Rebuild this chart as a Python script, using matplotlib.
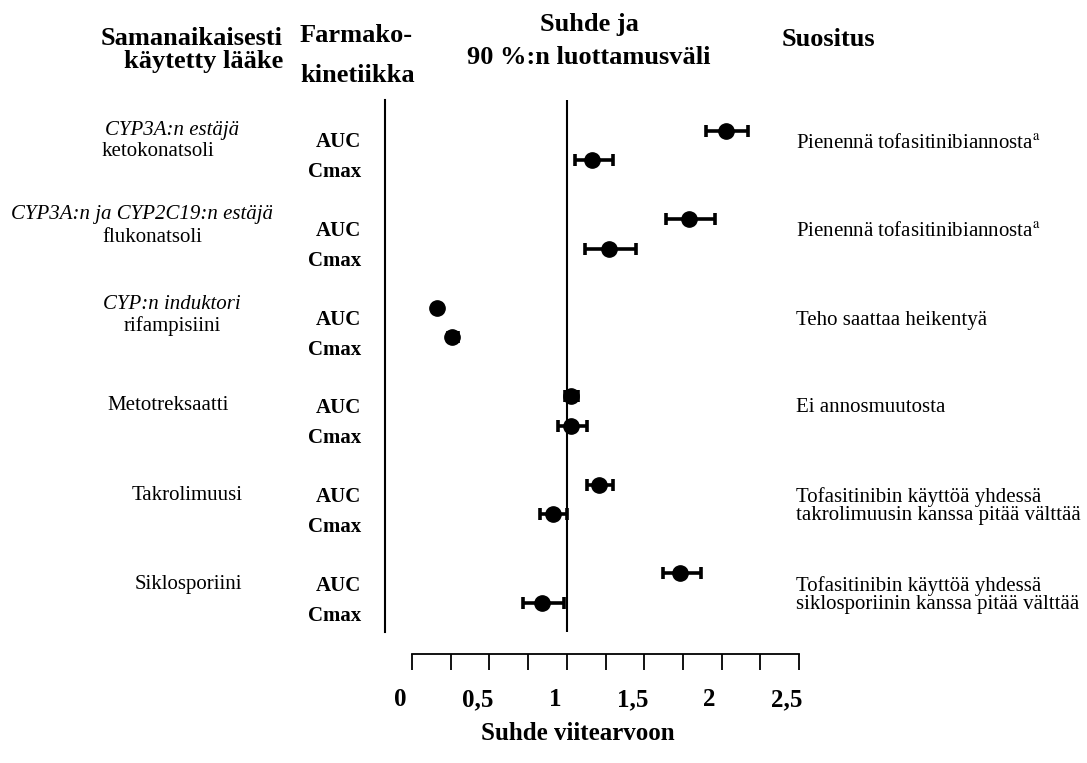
import numpy as np
import matplotlib
matplotlib.use('Agg')
import matplotlib.pyplot as plt
from matplotlib.transforms import ScaledTranslation

plt.rcParams['font.family'] = ['Liberation Serif', 'DejaVu Serif']
plt.rcParams['mathtext.fontset'] = 'stix'

# Tiedot (luettu kuvasta)
drug_class = ['CYP3A:n estäjä', 'CYP3A:n ja CYP2C19:n estäjä', 'CYP:n induktori', '', '', '']
drug_name = ['ketokonatsoli', 'flukonatsoli', 'rifampisiini',
             'Metotreksaatti', 'Takrolimuusi', 'Siklosporiini']
auc_ratio = np.array([2.03, 1.79, 0.16, 1.03, 1.21, 1.73])
auc_low = np.array([1.90, 1.64, 0.14, 0.99, 1.13, 1.62])
auc_high = np.array([2.17, 1.96, 0.19, 1.07, 1.30, 1.87])
cmax_ratio = np.array([1.16, 1.27, 0.26, 1.03, 0.91, 0.84])
cmax_low = np.array([1.05, 1.12, 0.23, 0.94, 0.83, 0.72])
cmax_high = np.array([1.30, 1.45, 0.30, 1.13, 1.00, 0.98])
recommendation = ['Pienennä tofasitinibiannosta$^{\\mathrm{a}}$',
                  'Pienennä tofasitinibiannosta$^{\\mathrm{a}}$',
                  'Teho saattaa heikentyä',
                  'Ei annosmuutosta',
                  'Tofasitinibin käyttöä yhdessä\ntakrolimuusin kanssa pitää välttää',
                  'Tofasitinibin käyttöä yhdessä\nsiklosporiinin kanssa pitää välttää']
tick_values = [0, 0.5, 1, 1.5, 2, 2.5]
tick_labels = ['0', '0,5', '1', '1,5', '2', '2,5']

W, H = 1087, 763
fig = plt.figure(figsize=(W / 100, H / 100), dpi=100)


def px(x, y):
    return x / W, 1 - y / H


# pääakseli
ax = fig.add_axes([385 / W, 1 - 632 / H, (799 - 385) / W, (632 - 100) / H])
ax.set_xlim(-27 / 154.8, 2.5)
ax.set_ylim(17.0, -1.04)
for s in ['top', 'right', 'bottom']:
    ax.spines[s].set_visible(False)
ax.spines['left'].set_linewidth(1.5)
ax.set_xticks([])
ax.set_yticks([])
ax.patch.set_alpha(0)
ax.axvline(1, color='black', lw=1.5)

g = np.arange(len(drug_name))
y_auc = 3 * g
y_cmax = 3 * g + 1
kw = dict(fmt='o', color='black', ms=11, elinewidth=2.6, capsize=4.5, capthick=2.6)
ax.errorbar(auc_ratio, y_auc, xerr=[auc_ratio - auc_low, auc_high - auc_ratio], **kw)
ax.errorbar(cmax_ratio, y_cmax, xerr=[cmax_ratio - cmax_low, cmax_high - cmax_ratio], **kw)

# alempi asteikko
ax2 = fig.add_axes([412 / W, 1 - 654 / H, (799 - 412) / W, 0.02])
ax2.set_xlim(0, 2.5)
for s in ['top', 'right', 'left']:
    ax2.spines[s].set_visible(False)
ax2.spines['bottom'].set_linewidth(1.3)
ax2.set_yticks([])
ax2.patch.set_alpha(0)
ax2.set_xticks(tick_values)
ax2.set_xticklabels(tick_labels, fontsize=18, fontweight='bold')
ax2.set_xticks(np.arange(0, 2.51, 0.25), minor=True)
ax2.tick_params(axis='x', which='both', direction='out', length=11.5, width=1.3, pad=13)
offset = ScaledTranslation(-12 / 100, 0, fig.dpi_scale_trans)
for lab in ax2.get_xticklabels():
    lab.set_transform(lab.get_transform() + offset)

fig.text(*px(578, 733), 'Suhde viitearvoon', fontsize=18, fontweight='bold',
         ha='center', va='center')

# otsikot
hs = 19
fig.text(*px(283, 50), 'Samanaikaisesti\nkäytetty lääke', fontsize=hs, fontweight='bold',
         ha='right', va='center', linespacing=0.95)
fig.text(*px(300, 36), 'Farmako-', fontsize=hs, fontweight='bold', ha='left', va='center')
fig.text(*px(300, 76), 'kinetiikka', fontsize=hs, fontweight='bold', ha='left', va='center')
fig.text(*px(589, 25), 'Suhde ja', fontsize=hs, fontweight='bold', ha='center', va='center')
fig.text(*px(589, 58), '90 %:n luottamusväli', fontsize=hs, fontweight='bold',
         ha='center', va='center')
fig.text(*px(782, 40), 'Suositus', fontsize=hs, fontweight='bold', ha='left', va='center')

# vasen sarake
bs = 15
class_pos = [(172, 130), (142, 215), (172, 305)]
name_pos = [(158, 152), (152, 238), (172, 326), (168, 406), (187, 496), (188, 585)]
for i in range(len(drug_name)):
    if drug_class[i]:
        fig.text(*px(*class_pos[i]), drug_class[i], fontsize=bs, style='italic',
                 ha='center', va='center')
    fig.text(*px(*name_pos[i]), drug_name[i], fontsize=bs, ha='center', va='center')
    fig.text(*px(361, 142 + 88.8 * i), 'AUC', fontsize=bs, fontweight='bold',
             ha='right', va='center')
    fig.text(*px(361, 172 + 88.8 * i), 'Cmax', fontsize=bs, fontweight='bold',
             ha='right', va='center')

# oikea sarake
rec_y = [143, 232, 320, 408, 506, 595]
for i, r in enumerate(recommendation):
    fig.text(*px(796, rec_y[i]), r, fontsize=bs, ha='left', va='center', linespacing=0.95)

fig.savefig('out.png', dpi=100)
